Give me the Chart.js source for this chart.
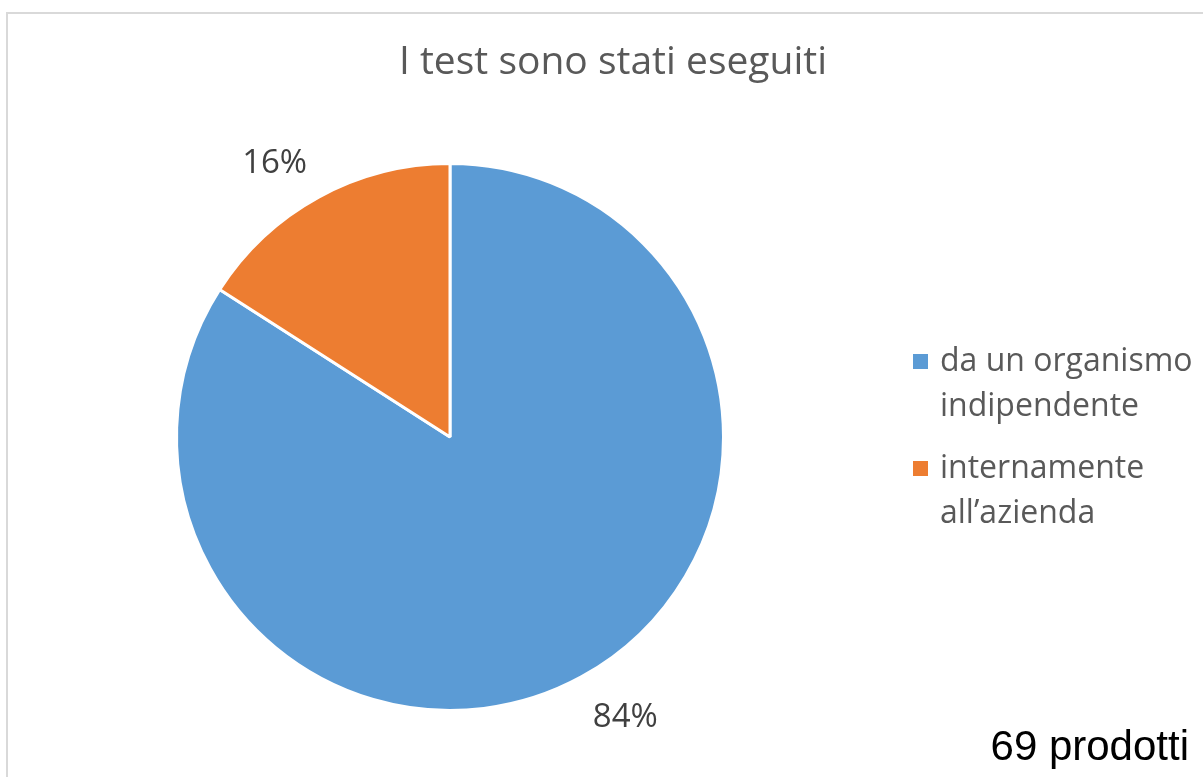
<!DOCTYPE html>
<html>
<head>
<meta charset="utf-8">
<script src="https://cdn.jsdelivr.net/npm/chart.js@4.4.0/dist/chart.umd.min.js"></script>
<style>
  html, body { margin: 0; padding: 0; background: #fff; }
  #wrap { position: relative; width: 1203px; height: 777px; }
</style>
</head>
<body>
<div id="wrap"><canvas id="c" width="1203" height="777"></canvas></div>
<script>
// Data
const title = 'I test sono stati eseguiti';
const categories = [['da un organismo', 'indipendente'], ['internamente', 'all\u2019azienda']];
const counts = [58, 11];
const colors = ['#5B9BD5', '#ED7D31'];
const footnote = '69 prodotti';

const TEXT = '#595959';
const LABEL = '#404040';
const FONT = '"Open Sans", "Noto Sans", sans-serif';

const total = counts.reduce((a, b) => a + b, 0);

// frame, title, legend, footnote and outside-end percentage labels
const decor = {
  id: 'decor',
  beforeDraw(chart) {
    const ctx = chart.ctx;
    ctx.save();
    ctx.strokeStyle = '#d9d9d9';
    ctx.lineWidth = 2;
    ctx.strokeRect(7, 13, 1210, 780);
    ctx.restore();
  },
  afterDraw(chart) {
    const ctx = chart.ctx;
    ctx.save();
    ctx.fillStyle = TEXT;
    ctx.font = '39px ' + FONT;
    ctx.textAlign = 'center';
    ctx.textBaseline = 'middle';
    ctx.fillText(title, 613, 63);

    // legend
    ctx.textAlign = 'left';
    ctx.font = '32px ' + FONT;
    let y = 362;
    categories.forEach((lines, i) => {
      ctx.fillStyle = colors[i];
      ctx.fillRect(913, y - 8, 15, 15);
      ctx.fillStyle = TEXT;
      lines.forEach((t, j) => ctx.fillText(t, 940, y + j * 45));
      y += 107;
    });

    // percentage labels
    const meta = chart.getDatasetMeta(0);
    ctx.font = '33px ' + FONT;
    ctx.fillStyle = LABEL;
    ctx.textAlign = 'center';
    meta.data.forEach((arc, i) => {
      const p = arc.getProps(['x', 'y', 'startAngle', 'endAngle', 'outerRadius'], true);
      const mid = (p.startAngle + p.endAngle) / 2;
      const r = p.outerRadius + 24;
      const txt = Math.round(counts[i] / total * 100) + '%';
      const w = ctx.measureText(txt).width;
      const cx = p.x + Math.cos(mid) * r + Math.sign(Math.cos(mid)) * w / 2;
      const cy = p.y + Math.sin(mid) * r + Math.sign(Math.sin(mid)) * 16 + 4;
      ctx.fillText(txt, cx, cy);
    });

    ctx.fillStyle = '#000';
    ctx.font = '42px "Liberation Sans", Arial, sans-serif';
    ctx.textAlign = 'right';
    ctx.fillText(footnote, 1189, 748);
    ctx.restore();
  }
};

new Chart(document.getElementById('c'), {
  type: 'pie',
  data: {
    labels: categories.map(l => l.join(' ')),
    datasets: [{ data: counts, backgroundColor: colors, borderColor: '#fff', borderWidth: 3 }]
  },
  options: {
    responsive: false,
    animation: false,
    layout: { padding: { left: 175, right: 478, top: 162, bottom: 65 } },
    plugins: { legend: { display: false }, tooltip: { enabled: false }, title: { display: false } }
  },
  plugins: [decor]
});
</script>
</body>
</html>
